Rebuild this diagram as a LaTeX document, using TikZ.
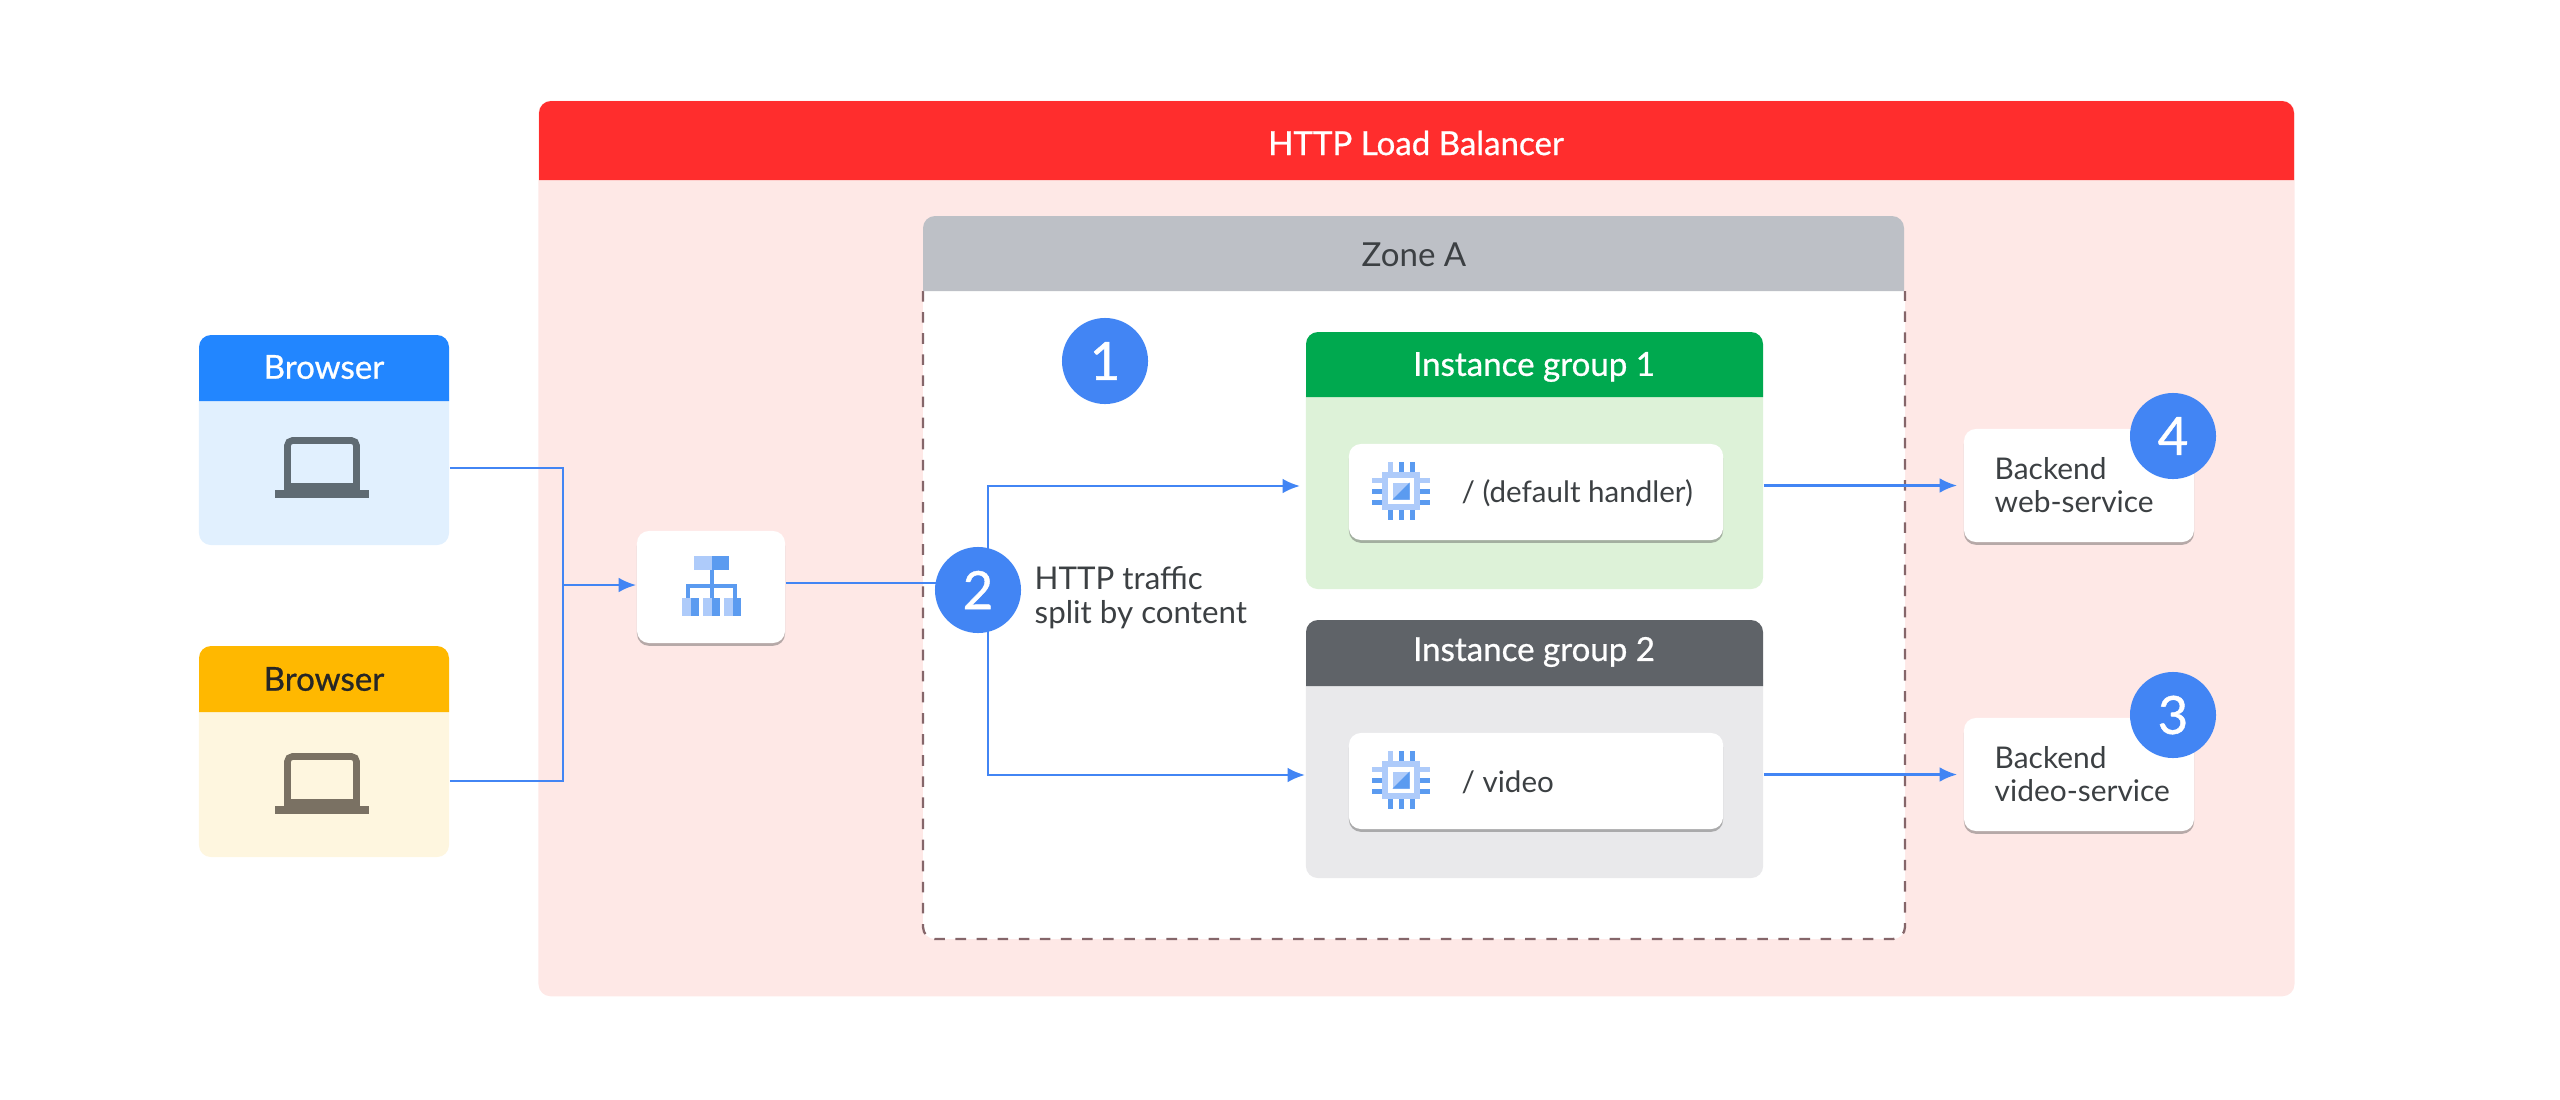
\documentclass[tikz,border=0pt]{standalone}
\usepackage{fontspec}
\setmainfont{Lato}
\newfontfamily\headfont{Lato}[FakeBold=0.8]
\usetikzlibrary{arrows.meta,shadows}
\definecolor{lbred}{HTML}{FF2D2D}
\definecolor{lbpink}{HTML}{FEE8E6}
\definecolor{zonegrey}{HTML}{BDC0C6}
\definecolor{zonedash}{HTML}{85666A}
\definecolor{blueA}{HTML}{2286FF}
\definecolor{blueB}{HTML}{E1F0FE}
\definecolor{amberA}{HTML}{FFB800}
\definecolor{amberB}{HTML}{FEF6DF}
\definecolor{greenA}{HTML}{00A94F}
\definecolor{greenB}{HTML}{DDF2D8}
\definecolor{slateA}{HTML}{5F6368}
\definecolor{slateB}{HTML}{E9E9EB}
\definecolor{badgeblue}{HTML}{4285F4}
\definecolor{iconlight}{HTML}{AECBFA}
\definecolor{icondark}{HTML}{5B9BF0}
\definecolor{inktext}{HTML}{3C4043}
\definecolor{laptopA}{HTML}{5F6B73}
\definecolor{laptopB}{HTML}{7A7163}
\tikzset{
panel/.style={rectangle, inner sep=0pt, rounded corners=.12cm},
card/.style={panel, fill=white, drop shadow={shadow xshift=0pt, shadow yshift=-.028cm, opacity=.4, fill=black!70}},
headtext/.style={inner sep=0pt, font=\fontsize{9.4}{11}\headfont},
bodytext/.style={inner sep=0pt, anchor=west, align=left, text=inktext, font=\fontsize{8.9}{9.6}\selectfont},
badge/.style={circle, fill=badgeblue, text=white, minimum size=.86cm, inner sep=0pt, font=\fontsize{15}{15}\headfont},
flow/.style={draw=badgeblue, line width=.8pt},
arrowflow/.style={flow, -{Latex[length=5pt,width=4.2pt]}},
pics/laptopicon/.style={code={
\draw[#1, line width=1.9pt, rounded corners=.05cm] (-34.5,17) -- (-34.5,-27.5) -- (34.5,-27.5) -- (34.5,17);
\fill[#1] (-47,22) rectangle (47,30);
\fill[#1] (-38,15) rectangle (38,22);
}},
pics/chipicon/.style={code={
\foreach \p/\c in {-11/iconlight,0/icondark,11/icondark}{
\fill[\c] (\p-2.5,-29) rectangle (\p+2.5,-19);
\fill[icondark] (\p-2.5,19) rectangle (\p+2.5,29);
\fill[\c] (-29,\p-2.5) rectangle (-19,\p+2.5);
\fill[\c] (19,\p-2.5) rectangle (29,\p+2.5);
}
\fill[iconlight] (-19,-19) rectangle (19,19);
\fill[white] (-13,-13) rectangle (13,13);
\fill[iconlight] (-8.5,-8.5) rectangle (8.5,8.5);
\fill[icondark] (8.5,-8.5) -- (8.5,8.5) -- (-8.5,8.5) -- cycle;
}},
}
\begin{document}
\begin{tikzpicture}[x=.01cm,y=-.01cm]
\useasboundingbox (0,0) rectangle (2560,1100);
% load balancer panel
\node[panel, fill=lbpink, minimum width=17.55cm, minimum height=8.95cm] (lbpanel) at (1416.5,548.5){};
\fill[lbred] (539,180) [rounded corners=.12cm] -- (539,101) -- (2294,101) [sharp corners] -- (2294,180) -- cycle;
\node[headtext, text=white] (lbtitle) at (1416,143){HTTP Load Balancer};
% zone
\filldraw[fill=white, draw=zonedash, line width=.65pt, dashed] (923,291) [rounded corners=.12cm] -- (923,939) -- (1905,939) [sharp corners] -- (1905,291);
\fill[zonegrey] (923,291) [rounded corners=.12cm] -- (923,216) -- (1904,216) [sharp corners] -- (1904,291) -- cycle;
\node[inner sep=0pt, text=inktext, font=\fontsize{9.4}{11}\selectfont] (zonetitle) at (1414,255){Zone A};
% browsers
\node[panel, fill=blueB, minimum width=2.5cm, minimum height=1.6cm] (browser1) at (324,465){};
\fill[blueA] (199,401) [rounded corners=.12cm] -- (199,335) -- (449,335) [sharp corners] -- (449,401) -- cycle;
\node[headtext, text=white] (browser1title) at (324,367){Browser};
\pic at (322,468) {laptopicon=laptopA};
\node[panel, fill=amberB, minimum width=2.5cm, minimum height=1.6cm] (browser2) at (324,777){};
\fill[amberA] (199,712) [rounded corners=.12cm] -- (199,646) -- (449,646) [sharp corners] -- (449,712) -- cycle;
\node[headtext, text=black!85] (browser2title) at (324,679){Browser};
\pic at (322,784) {laptopicon=laptopB};
% load balancer icon box
\node[card, minimum width=1.48cm, minimum height=1.12cm] (lb) at (711,587){};
\fill[iconlight] (694,556) rectangle (712,570);
\fill[icondark] (712,556) rectangle (729,570);
\draw[icondark, line width=1.4pt] (712,570) -- (712,598) (688,598) -- (688,586) -- (735,586) -- (735,598);
\foreach \q in {682,703,724}{
\fill[iconlight] (\q,598) rectangle (\q+17,616);
\fill[icondark] (\q+9,598) rectangle (\q+17,616);
}
% instance groups
\node[panel, fill=greenB, minimum width=4.57cm, minimum height=2.1cm] (group1) at (1534.5,484){};
\fill[greenA] (1306,397) [rounded corners=.12cm] -- (1306,332) -- (1763,332) [sharp corners] -- (1763,397) -- cycle;
\node[headtext, text=white] (group1title) at (1534,367){Instance group 1};
\node[panel, fill=slateB, minimum width=4.57cm, minimum height=2.1cm] (group2) at (1534.5,773){};
\fill[slateA] (1306,686) [rounded corners=.12cm] -- (1306,620) -- (1763,620) [sharp corners] -- (1763,686) -- cycle;
\node[headtext, text=white] (group2title) at (1534,652){Instance group 2};
\node[card, minimum width=3.74cm, minimum height=.96cm] (handler1) at (1536,492){};
\pic at (1401,491) {chipicon};
\node[bodytext, font=\fontsize{8.4}{9.6}\selectfont] (handler1text) at (1461,493){/ (default handler)};
\node[card, minimum width=3.74cm, minimum height=.96cm] (handler2) at (1536,781){};
\pic at (1401,780) {chipicon};
\node[bodytext, font=\fontsize{8.4}{9.6}\selectfont] (handler2text) at (1461,782){/ video};
% backends
\node[card, minimum width=2.3cm, minimum height=1.13cm] (backend1) at (2079,485.5){};
\node[bodytext, font=\fontsize{8.5}{9.6}\selectfont] (backend1text) at (1994,485){Backend\\web-service};
\node[card, minimum width=2.3cm, minimum height=1.13cm] (backend2) at (2079,774.5){};
\node[bodytext, font=\fontsize{8.5}{9.6}\selectfont] (backend2text) at (1994,774){Backend\\video-service};
% connectors
\coordinate (merge) at (563,585);
\coordinate (split) at (988,583);
\draw[flow] ([yshift=-.03cm]browser1.east) -| (merge);
\draw[flow] ([yshift=-.04cm]browser2.east) -| (merge);
\draw[arrowflow] (merge) -- (merge -| lb.west);
\draw[flow] (split -| lb.east) -- (split);
\draw[arrowflow] (split) |- ([xshift=-.05cm,yshift=-.02cm]group1.west);
\draw[arrowflow] (split) |- ([yshift=-.02cm]group2.west);
\draw[arrowflow, shorten >=.06cm] (group1.east |- backend1.west) -- (backend1.west);
\draw[arrowflow, shorten >=.06cm] (group2.east |- backend2.west) -- (backend2.west);
% badges
\node[badge] (badge1) at (1105,361){1};
\node[badge] (badge2) at (978,590){2};
\node[badge] (badge3) at (2173,715){3};
\node[badge] (badge4) at (2173,436){4};
\node[bodytext] (splitnote) at (1034,598){HTTP traffic\\split by content};
\end{tikzpicture}
\end{document}
